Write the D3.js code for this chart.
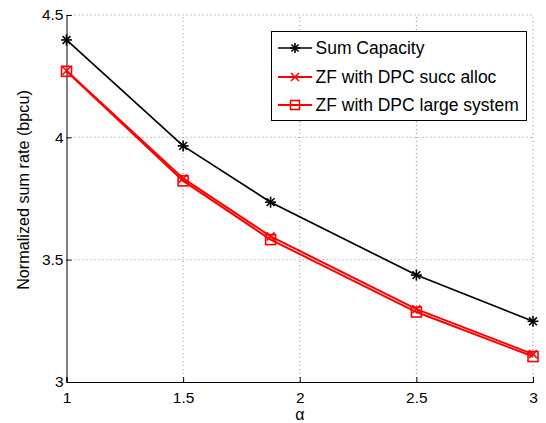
<!DOCTYPE html>
<html><head><meta charset="utf-8">
<script src="https://cdn.jsdelivr.net/npm/d3@7"></script>
<style>body{margin:0;background:#fff}svg{display:block}text{font-family:"Liberation Sans",Arial,sans-serif}</style>
</head><body>
<script>
const alphaValues = [1, 1.5, 1.875, 2.5, 3];
const sumCapacity = [4.398, 3.965, 3.735, 3.437, 3.248];
const zfSuccAlloc = [4.272, 3.832, 3.595, 3.298, 3.114];
const zfLargeSystem = [4.270, 3.822, 3.582, 3.286, 3.104];
const xTicks = [1, 1.5, 2, 2.5, 3];
const yTicks = [3, 3.5, 4, 4.5];
const seriesNames = ["Sum Capacity", "ZF with DPC succ alloc", "ZF with DPC large system"];

const W = 546, H = 423;
const m = {l: 66.5, r: 13, t: 15, b: 41};
const svg = d3.select("body").append("svg").attr("width", W).attr("height", H);
const x = d3.scaleLinear().domain([1, 3]).range([m.l, W - m.r]);
const y = d3.scaleLinear().domain([3, 4.5]).range([H - m.b, m.t]);

// grid
const g = svg.append("g");
g.selectAll(".gx").data(xTicks.filter(d => d > 1)).enter().append("line")
  .attr("x1", d => x(d)).attr("x2", d => x(d)).attr("y1", y(3)).attr("y2", y(4.5))
  .attr("stroke", "#888").attr("stroke-width", 1).attr("stroke-dasharray", "1,3");
g.selectAll(".gy").data(yTicks.filter(d => d > 3)).enter().append("line")
  .attr("x1", x(1)).attr("x2", x(3)).attr("y1", d => y(d)).attr("y2", d => y(d))
  .attr("stroke", "#888").attr("stroke-width", 1).attr("stroke-dasharray", "1,3");

// axes
const xAxis = svg.append("g").attr("transform", `translate(0,${y(3)})`)
  .call(d3.axisBottom(x).tickValues(xTicks).tickSize(-5).tickPadding(10).tickFormat(d3.format("")));
const yAxis = svg.append("g").attr("transform", `translate(${x(1)},0)`)
  .call(d3.axisLeft(y).tickValues(yTicks).tickSize(-5).tickPadding(3).tickFormat(d3.format("")));
[xAxis, yAxis].forEach(a => {
  a.select(".domain").attr("stroke", "#000").attr("stroke-width", 1);
  a.selectAll(".tick line").attr("stroke", "#000");
  a.selectAll("text").attr("font-size", 15.5).attr("fill", "#000").attr("font-family", "Liberation Sans, Arial, sans-serif");
});

svg.append("text").attr("x", x(2)).attr("y", 420).attr("text-anchor", "middle")
  .attr("font-size", 16).text("α");
svg.append("text").attr("transform", `translate(29,190) rotate(-90)`)
  .attr("text-anchor", "middle").attr("font-size", 16.2).text("Normalized sum rate (bpcu)");

const line = d3.line().x((d, i) => x(alphaValues[i])).y(d => y(d));

function star(sel, cx, cy, r, color) {
  const gg = sel.append("g").attr("stroke", color).attr("stroke-width", 1.6);
  [0, 45, 90, 135].forEach(a => {
    const rad = a * Math.PI / 180;
    gg.append("line").attr("x1", cx - r * Math.cos(rad)).attr("y1", cy - r * Math.sin(rad))
      .attr("x2", cx + r * Math.cos(rad)).attr("y2", cy + r * Math.sin(rad));
  });
}
function cross(sel, cx, cy, r, color) {
  const gg = sel.append("g").attr("stroke", color).attr("stroke-width", 1.6);
  gg.append("line").attr("x1", cx - r).attr("y1", cy - r).attr("x2", cx + r).attr("y2", cy + r);
  gg.append("line").attr("x1", cx - r).attr("y1", cy + r).attr("x2", cx + r).attr("y2", cy - r);
}
function square(sel, cx, cy, r, color) {
  sel.append("rect").attr("x", cx - r).attr("y", cy - r).attr("width", 2 * r).attr("height", 2 * r)
    .attr("fill", "none").attr("stroke", color).attr("stroke-width", 1.6);
}

const plot = svg.append("g");
plot.append("path").attr("d", line(zfLargeSystem)).attr("fill", "none").attr("stroke", "#f00").attr("stroke-width", 2);
plot.append("path").attr("d", line(zfSuccAlloc)).attr("fill", "none").attr("stroke", "#f00").attr("stroke-width", 2);
plot.append("path").attr("d", line(sumCapacity)).attr("fill", "none").attr("stroke", "#000").attr("stroke-width", 1.7);
zfLargeSystem.forEach((v, i) => square(plot, x(alphaValues[i]), y(v), 5, "#f00"));
zfSuccAlloc.forEach((v, i) => cross(plot, x(alphaValues[i]), y(v), 4, "#f00"));
sumCapacity.forEach((v, i) => star(plot, x(alphaValues[i]), y(v), 5.5, "#000"));

// legend
const lg = svg.append("g");
lg.append("rect").attr("x", 271.5).attr("y", 31.5).attr("width", 255).attr("height", 89)
  .attr("fill", "#fff").attr("stroke", "#000").attr("stroke-width", 1);
const rows = [48, 77, 105];
const colors = ["#000", "#f00", "#f00"];
const markers = [star, cross, square];
const mr = [5, 4, 4.5];
seriesNames.forEach((name, i) => {
  lg.append("line").attr("x1", 278).attr("x2", 312).attr("y1", rows[i]).attr("y2", rows[i])
    .attr("stroke", colors[i]).attr("stroke-width", i ? 2 : 1.7);
  markers[i](lg, 295, rows[i], mr[i], colors[i]);
  lg.append("text").attr("x", 315.5).attr("y", rows[i] + 6).attr("font-size", 17.5).text(name);
});
</script>
</body></html>
